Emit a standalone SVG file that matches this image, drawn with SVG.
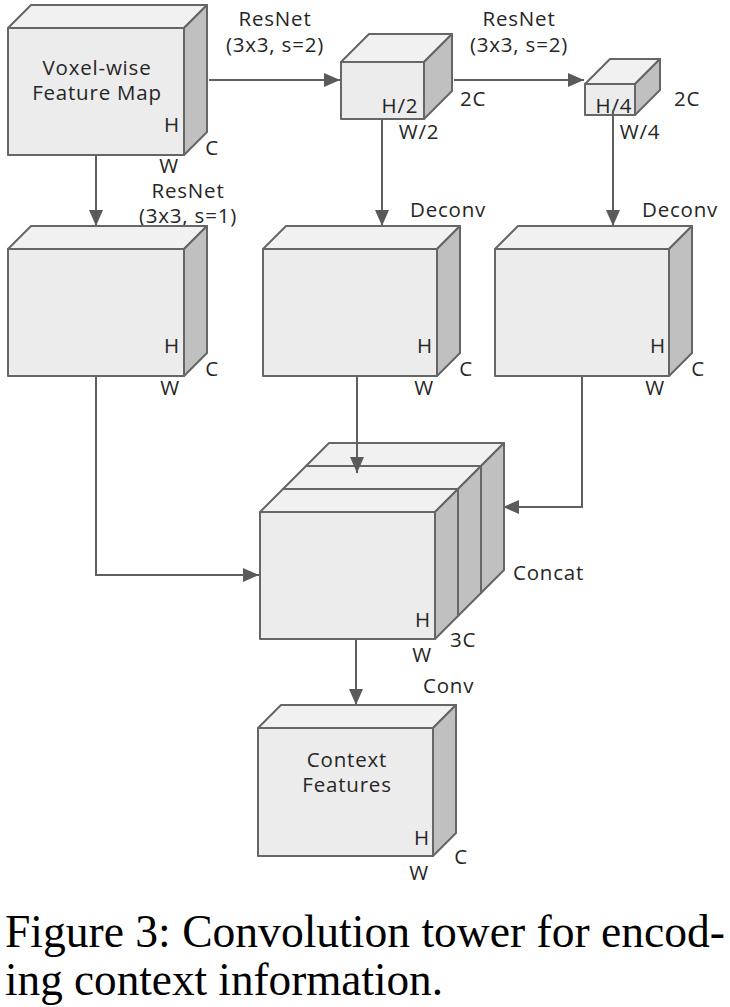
<svg xmlns="http://www.w3.org/2000/svg" width="730" height="1007" viewBox="0 0 730 1007">
<defs>
<style>
.fr{fill:#ececec;stroke:#666;stroke-width:2;stroke-linejoin:round}
.tp{fill:#f1f1f1;stroke:#666;stroke-width:2;stroke-linejoin:round}
.sd{fill:#c0c0c0;stroke:#666;stroke-width:2;stroke-linejoin:round}
.ln{fill:none;stroke:#5f5f5f;stroke-width:2}
text{font-family:"Open Sans","DejaVu Sans",sans-serif;font-size:20.5px;letter-spacing:0.8px;fill:#262626}
.m{text-anchor:middle}
.cap{font-family:"Liberation Serif","Times New Roman",serif;font-size:47px;letter-spacing:0;fill:#000}
</style>
<marker id="ah" markerUnits="userSpaceOnUse" markerWidth="16" markerHeight="14" viewBox="0 0 16 14" refX="16" refY="7" orient="auto">
<path d="M0,0 L16,7 L0,14 Z" fill="#5a5a5a"/>
</marker>
</defs>
<rect width="730" height="1007" fill="#fff"/>

<g id="connectors">
<path class="ln" d="M209,80 H340" marker-end="url(#ah)"/>
<path class="ln" d="M454,80 H584" marker-end="url(#ah)"/>
<path class="ln" d="M96,155 V226" marker-end="url(#ah)"/>
<path class="ln" d="M382,119 V226" marker-end="url(#ah)"/>
<path class="ln" d="M613,113 V226" marker-end="url(#ah)"/>
<path class="ln" d="M96,376 V575 H259" marker-end="url(#ah)"/>
<path class="ln" d="M582,376 V507 H503" marker-end="url(#ah)"/>
<path class="ln" d="M356,639 V705" marker-end="url(#ah)"/>
</g>

<g id="voxel-feature-map">
<rect class="fr" x="8" y="28" width="176" height="127"/>
<polygon class="tp" points="8,28 31,5 207,5 184,28"/>
<polygon class="sd" points="184,28 207,5 207,132 184,155"/>
<text class="m" x="97" y="75">Voxel-wise</text>
<text class="m" x="97" y="100">Feature Map</text>
<text class="m" x="172" y="132">H</text>
<text class="m" x="212" y="155">C</text>
<text class="m" x="169" y="173">W</text>
</g>

<g id="label-resnet-1">
<text class="m" x="275" y="26">ResNet</text>
<text class="m" x="275" y="52">(3x3, s=2)</text>
</g>
<g id="label-resnet-2">
<text class="m" x="519" y="26">ResNet</text>
<text class="m" x="519" y="52">(3x3, s=2)</text>
</g>
<g id="label-resnet-3">
<text class="m" x="188" y="198">ResNet</text>
<text class="m" x="188" y="223">(3x3, s=1)</text>
</g>

<g id="half-map">
<rect class="fr" x="341" y="62" width="83" height="57"/>
<polygon class="tp" points="341,62 369,34 452,34 424,62"/>
<polygon class="sd" points="424,62 452,34 452,91 424,119"/>
<text class="m" x="400" y="113">H/2</text>
<text class="m" x="473" y="106">2C</text>
<text class="m" x="419" y="139">W/2</text>
</g>

<g id="quarter-map">
<rect class="fr" x="585" y="84" width="50" height="31"/>
<polygon class="tp" points="585,84 610,59 660,59 635,84"/>
<polygon class="sd" points="635,84 660,59 660,90 635,115"/>
<text class="m" x="614" y="113">H/4</text>
<text class="m" x="687" y="106">2C</text>
<text class="m" x="640" y="139">W/4</text>
<path class="ln" d="M613,110 V115"/>
</g>

<g id="resnet-out">
<rect class="fr" x="8" y="249" width="176" height="127"/>
<polygon class="tp" points="8,249 31,226 207,226 184,249"/>
<polygon class="sd" points="184,249 207,226 207,353 184,376"/>
<text class="m" x="172" y="353">H</text>
<text class="m" x="212" y="376">C</text>
<text class="m" x="170" y="395">W</text>
</g>

<g id="deconv-1">
<rect class="fr" x="263" y="249" width="174" height="127"/>
<polygon class="tp" points="263,249 286,226 460,226 437,249"/>
<polygon class="sd" points="437,249 460,226 460,353 437,376"/>
<text x="410" y="217">Deconv</text>
<text class="m" x="425" y="353">H</text>
<text class="m" x="466" y="376">C</text>
<text class="m" x="424" y="395">W</text>
</g>

<g id="deconv-2">
<rect class="fr" x="495" y="249" width="174" height="127"/>
<polygon class="tp" points="495,249 518,226 692,226 669,249"/>
<polygon class="sd" points="669,249 692,226 692,353 669,376"/>
<text x="642" y="217">Deconv</text>
<text class="m" x="658" y="353">H</text>
<text class="m" x="698" y="376">C</text>
<text class="m" x="655" y="395">W</text>
</g>

<g id="concat">
<rect class="fr" x="306" y="466" width="175" height="127"/>
<polygon class="tp" points="306,466 329,443 504,443 481,466"/>
<polygon class="sd" points="481,466 504,443 504,570 481,593"/>
<rect class="fr" x="283" y="489" width="175" height="127"/>
<polygon class="tp" points="283,489 306,466 481,466 458,489"/>
<polygon class="sd" points="458,489 481,466 481,593 458,616"/>
<rect class="fr" x="260" y="512" width="175" height="127"/>
<polygon class="tp" points="260,512 283,489 458,489 435,512"/>
<polygon class="sd" points="435,512 458,489 458,616 435,639"/>
<path class="ln" d="M357,376 V473" marker-end="url(#ah)"/>
<text x="513" y="580">Concat</text>
<text class="m" x="423" y="627">H</text>
<text class="m" x="463" y="647">3C</text>
<text class="m" x="422" y="662">W</text>
</g>

<g id="context-features">
<rect class="fr" x="258" y="728" width="175" height="128"/>
<polygon class="tp" points="258,728 281,705 456,705 433,728"/>
<polygon class="sd" points="433,728 456,705 456,833 433,856"/>
<text x="423" y="693">Conv</text>
<text class="m" x="347" y="767">Context</text>
<text class="m" x="347" y="792">Features</text>
<text class="m" x="422" y="845">H</text>
<text class="m" x="461" y="864">C</text>
<text class="m" x="419" y="880">W</text>
</g>

<g id="caption">
<text class="cap" x="5" y="947" textLength="720" lengthAdjust="spacingAndGlyphs">Figure 3: Convolution tower for encod-</text>
<text class="cap" x="5" y="995" textLength="438" lengthAdjust="spacingAndGlyphs">ing context information.</text>
</g>
</svg>
